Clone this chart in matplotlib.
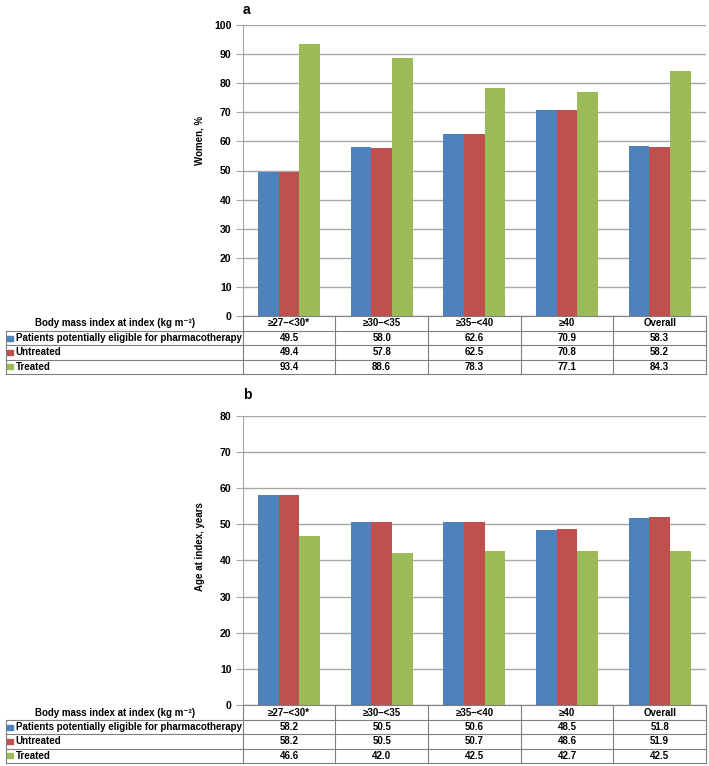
import matplotlib
matplotlib.use('Agg')
import matplotlib.pyplot as plt
from matplotlib.lines import Line2D
from matplotlib.patches import Rectangle
import numpy as np

plt.rcParams['font.family'] = ['Liberation Sans', 'DejaVu Sans']

categories = ['≥27–<30*', '≥30–<35', '≥35–<40', '≥40', 'Overall']
series_names = ['Patients potentially eligible for pharmacotherapy', 'Untreated', 'Treated']
women_eligible = [49.5, 58.0, 62.6, 70.9, 58.3]
women_untreated = [49.4, 57.8, 62.5, 70.8, 58.2]
women_treated = [93.4, 88.6, 78.3, 77.1, 84.3]
age_eligible = [58.2, 50.5, 50.6, 48.5, 51.8]
age_untreated = [58.2, 50.5, 50.7, 48.6, 51.9]
age_treated = [46.6, 42.0, 42.5, 42.7, 42.5]
colors = ['#4F81BD', '#C0504D', '#9BBB59']
corner_label = 'Body mass index at index (kg m⁻²)'

W, H = 709, 766
fig = plt.figure(figsize=(W / 100, H / 100), dpi=100)


def fx(px):
    return px / W


def fy(py):
    return 1 - py / H


LINE_C = '#7F7F7F'
FS = 7.0


def hline(x0, x1, y):
    fig.add_artist(Line2D([fx(x0), fx(x1)], [fy(y), fy(y)], color=LINE_C, lw=0.8))


def vline(x, y0, y1):
    fig.add_artist(Line2D([fx(x), fx(x)], [fy(y0), fy(y1)], color=LINE_C, lw=0.8))


def panel(top, bottom, ymax, ylabel, ylabel_y, letter, letter_y, series):
    left, right = 242.7, 706
    ax = fig.add_axes([fx(left), fy(bottom), fx(right - left), (bottom - top) / H])
    x = np.arange(len(categories))
    bw = 0.223
    for i, (vals, c) in enumerate(zip(series, colors)):
        ax.bar(x + (i - 1) * bw, vals, bw, color=c, zorder=3)
    ax.set_xlim(-0.5, len(categories) - 0.5)
    ax.set_ylim(0, ymax)
    ax.set_yticks(np.arange(0, ymax + 1, 10))
    ax.yaxis.grid(True, color='#A6A6A6', lw=1, zorder=0)
    ax.set_xticks([])
    for s in ['top', 'right', 'bottom']:
        ax.spines[s].set_visible(False)
    ax.spines['left'].set_color('#A6A6A6')
    ax.tick_params(axis='y', length=5, color='#A6A6A6', labelsize=7.6, pad=3)
    for t in ax.get_yticklabels():
        t.set_fontweight('bold')

    fig.text(fx(200), fy(ylabel_y), ylabel, rotation=90, ha='center', va='center',
             fontsize=FS, fontweight='bold')
    fig.text(fx(243), fy(letter_y), letter, ha='left', va='center',
             fontsize=10, fontweight='bold')

    # table
    colw = (right - left) / len(categories)
    header_h = 15
    row_h = 14.3
    ys = [bottom, bottom + header_h]
    for _ in series:
        ys.append(ys[-1] + row_h)
    box_left = 5.5
    hline(left, right, ys[0])
    for y in ys[1:]:
        hline(box_left, right, y)
    for k in range(len(categories) + 1):
        vline(left + k * colw, ys[0], ys[-1])
    vline(box_left, ys[1], ys[-1])

    fig.text(fx(115), fy((ys[0] + ys[1]) / 2), corner_label, ha='center', va='center',
             fontsize=FS, fontweight='bold')
    for k, cat in enumerate(categories):
        fig.text(fx(left + (k + 0.5) * colw), fy((ys[0] + ys[1]) / 2), cat,
                 ha='center', va='center', fontsize=FS, fontweight='bold')
    for r, (name, vals, c) in enumerate(zip(series_names, series, colors)):
        yc = (ys[r + 1] + ys[r + 2]) / 2
        fig.add_artist(Rectangle((fx(7.5), fy(yc + 2.6)), fx(5.2), 5.2 / H, color=c,
                                 transform=fig.transFigure))
        fig.text(fx(15.5), fy(yc), name, ha='left', va='center', fontsize=FS,
                 fontweight='bold')
        for k, v in enumerate(vals):
            fig.text(fx(left + (k + 0.5) * colw), fy(yc), f'{v:.1f}', ha='center',
                     va='center', fontsize=FS, fontweight='bold')
    return ax


panel(25, 316, 100, 'Women, %', 140, 'a', 10,
      [women_eligible, women_untreated, women_treated])
panel(415.7, 705, 80, 'Age at index, years', 547, 'b', 395,
      [age_eligible, age_untreated, age_treated])

fig.savefig('out.png', dpi=100)
